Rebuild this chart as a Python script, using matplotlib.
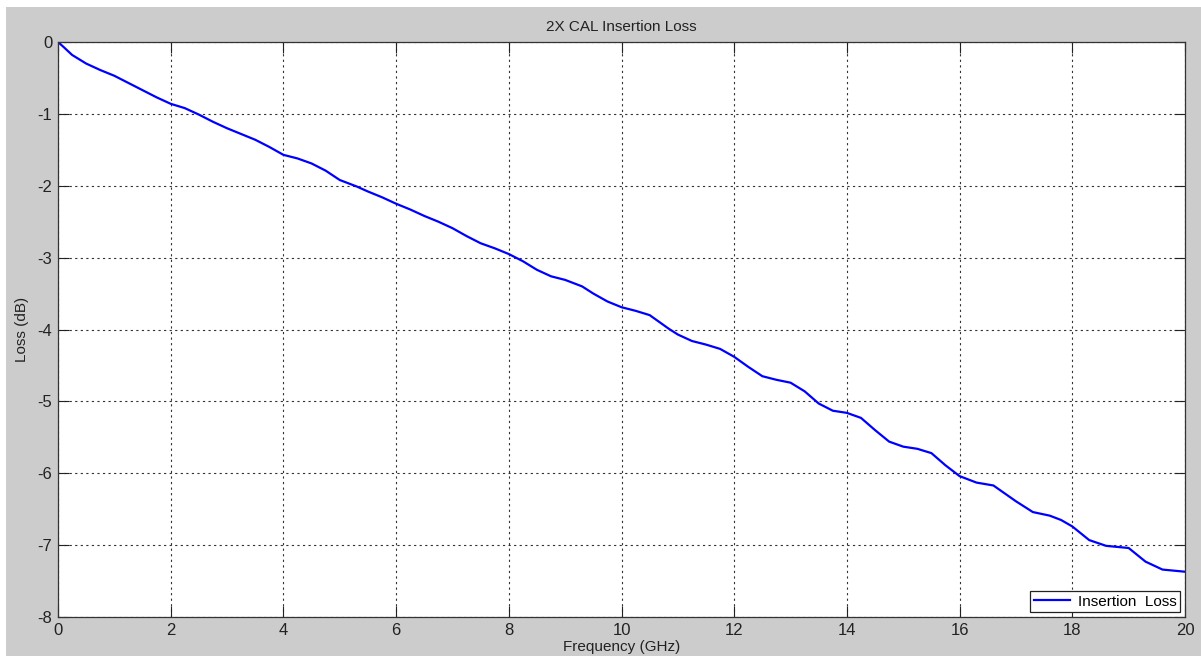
import matplotlib
matplotlib.use("Agg")
import matplotlib.pyplot as plt
from matplotlib.patches import Rectangle

freq_ghz = [0.0, 0.1, 0.25, 0.5, 0.75, 1.0, 1.25, 1.5, 1.75, 2.0, 2.25, 2.5, 2.75,
            3.0, 3.25, 3.5, 3.75, 4.0, 4.25, 4.5, 4.75, 5.0, 5.3, 5.5, 5.75, 6.0,
            6.25, 6.5, 6.75, 7.0, 7.25, 7.5, 7.75, 8.0, 8.25, 8.5, 8.75, 9.0, 9.3,
            9.5, 9.75, 10.0, 10.25, 10.5, 10.84, 11.0, 11.25, 11.5, 11.75, 12.0,
            12.25, 12.5, 12.75, 13.0, 13.25, 13.5, 13.75, 14.0, 14.25, 14.5, 14.75,
            15.0, 15.25, 15.5, 15.75, 16.0, 16.3, 16.6, 17.0, 17.3, 17.6, 17.8,
            18.0, 18.3, 18.6, 19.0, 19.3, 19.6, 20.0]
loss_db = [0.0, -0.07, -0.18, -0.30, -0.39, -0.47, -0.57, -0.67, -0.77, -0.86,
           -0.92, -1.01, -1.11, -1.20, -1.28, -1.36, -1.46, -1.57, -1.62, -1.69,
           -1.79, -1.92, -2.01, -2.08, -2.16, -2.25, -2.33, -2.42, -2.50, -2.59,
           -2.70, -2.80, -2.87, -2.95, -3.05, -3.17, -3.26, -3.31, -3.40, -3.50,
           -3.61, -3.69, -3.74, -3.80, -3.99, -4.07, -4.16, -4.21, -4.27, -4.38,
           -4.52, -4.65, -4.70, -4.74, -4.86, -5.03, -5.13, -5.16, -5.23, -5.40,
           -5.56, -5.63, -5.66, -5.72, -5.89, -6.04, -6.13, -6.17, -6.39, -6.54,
           -6.59, -6.65, -6.74, -6.93, -7.01, -7.04, -7.23, -7.34, -7.37]

x_ticks = [0, 2, 4, 6, 8, 10, 12, 14, 16, 18, 20]
y_ticks = [0, -1, -2, -3, -4, -5, -6, -7, -8]

plt.rcParams['font.family'] = ['Liberation Sans', 'DejaVu Sans']
plt.rcParams['axes.unicode_minus'] = False
W, H = 1201, 658
fig = plt.figure(figsize=(W / 100, H / 100), dpi=100, facecolor='white')
fig.patches.append(Rectangle((6 / W, 2 / H), 1 - 6 / W, (651 - 2) / H,
                             transform=fig.transFigure, facecolor='#cccccc',
                             edgecolor='none', zorder=-10))

ax = fig.add_axes([58 / W, (H - 617) / H, (1185 - 58) / W, (617 - 42) / H])
ax.set_facecolor('white')
ax.plot(freq_ghz, loss_db, color='#0000ff', lw=1.6, label='Insertion  Loss')
ax.set_xlim(0, 20)
ax.set_ylim(-8, 0)
ax.set_xticks(x_ticks)
ax.set_yticks(y_ticks)
ax.grid(True, color='#333333', linestyle=(0, (2, 3)), lw=0.8)
ax.tick_params(direction='in', length=8, width=0.8, top=True, right=True,
               labelsize=12, colors='#222222', pad=4)
for s in ax.spines.values():
    s.set_color('#333333')
    s.set_linewidth(0.9)
ax.set_title('2X CAL Insertion Loss', fontsize=11, color='#222222', pad=8)
ax.set_xlabel('Frequency (GHz)', fontsize=11, color='#222222', labelpad=2)
ax.set_ylabel('Loss (dB)', fontsize=11, color='#222222', labelpad=6)
leg = ax.legend(loc='lower right', fontsize=11, fancybox=False, framealpha=1,
                edgecolor='#222222', borderaxespad=0.3, handlelength=2.4,
                borderpad=0.25, handletextpad=0.5)
leg.get_frame().set_linewidth(0.9)

fig.savefig('out.png', dpi=100, facecolor=fig.get_facecolor())
